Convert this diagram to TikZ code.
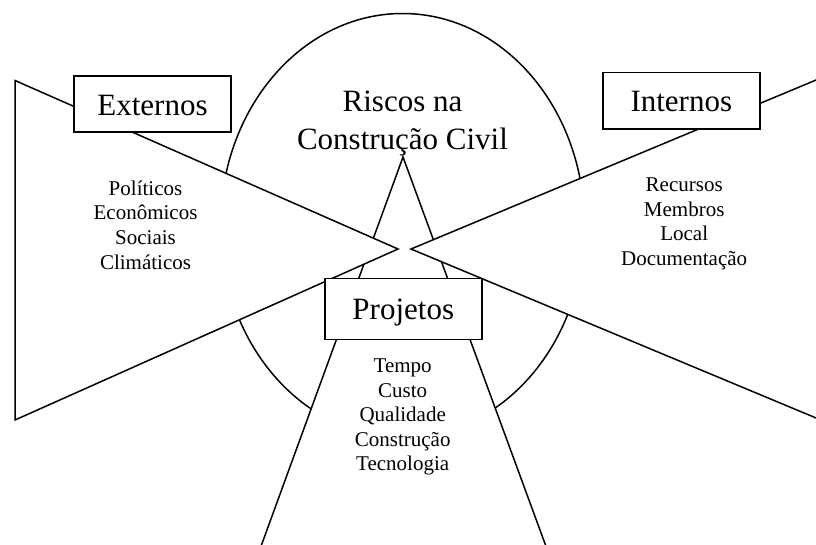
\documentclass[tikz,border=0pt]{standalone}
\usepackage{fontspec}
\setmainfont{Liberation Serif}
\begin{document}
\begin{tikzpicture}[x=1pt,y=-1pt,
  outline/.style={line width=1.5pt},
  wedge/.style={outline, fill=white},
  label box/.style={draw, line width=1.5pt, fill=white, minimum width=157pt,
    minimum height=56pt, inner sep=0pt, text height=22pt, text depth=0pt,
    font=\fontsize{31}{37}\selectfont},
  title text/.style={align=center, inner sep=0pt, anchor=base,
    font=\fontsize{31}{37.3}\selectfont},
  list text/.style={align=center, inner sep=0pt, anchor=base,
    font=\fontsize{21}{24.6}\selectfont},
]
\useasboundingbox (0,0) rectangle (816,544);
\clip (0,0) rectangle (816,544);

% corner points of the three wedges
\coordinate (ext top) at (15,80.5);
\coordinate (ext bot) at (15,420);
\coordinate (ext tip) at (398,249);
\coordinate (int top) at (830,74.2);
\coordinate (int bot) at (830,423.8);
\coordinate (int tip) at (411,249);
\coordinate (prj tip) at (403,157);
\coordinate (prj left) at (256,560);
\coordinate (prj right) at (551,560);

% central oval behind everything
\coordinate (oval c) at (402.5,225.5);
\draw[outline] (oval c) ellipse [x radius=182pt, y radius=212pt];

% project wedge, then the two side wedges over it
\draw[wedge] (prj tip) -- (prj right) -- (prj left) -- cycle;
\draw[wedge] (ext tip) -- (ext top) -- (ext bot) -- cycle;
\draw[wedge] (int tip) -- (int top) -- (int bot) -- cycle;

% labelled boxes
\node[label box] (externos) at (152.5,104) {Externos};
\node[label box, minimum height=56.5pt] (internos) at (681.3,100.5) {Internos};
\node[label box, minimum height=61pt, text height=20.5pt] (projetos) at (403.3,309) {Projetos};

% texts (base anchor sits on the last line)
\node[title text] (riscos) at (402.5,149) {Riscos na\\Construção Civil};
\node[list text] (lista ext) at (145.5,269) {Políticos\\Econômicos\\Sociais\\Climáticos};
\node[list text] (lista int) at (684.2,265.4) {Recursos\\Membros\\Local\\Documentação};
\node[list text] (lista prj) at (402.7,470.9) {Tempo\\Custo\\Qualidade\\Construção\\Tecnologia};
\end{tikzpicture}
\end{document}
